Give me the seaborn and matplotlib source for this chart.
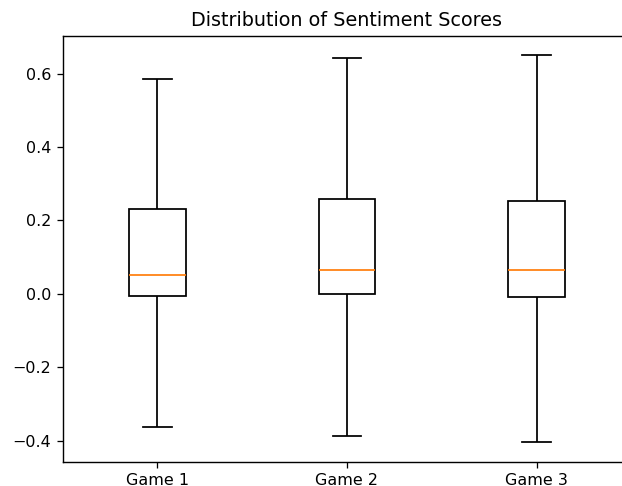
import matplotlib
matplotlib.use("Agg")
import matplotlib.pyplot as plt
import seaborn as sns
import pandas as pd

games = ["Game 1", "Game 2", "Game 3"]
# five summary values per game: min, Q1, median, Q3, max
game1_scores = [-0.364, -0.005, 0.050, 0.231, 0.586]
game2_scores = [-0.389, 0.000, 0.065, 0.258, 0.644]
game3_scores = [-0.405, -0.008, 0.065, 0.254, 0.650]

df = pd.DataFrame({
    "Game": [games[0]] * len(game1_scores) + [games[1]] * len(game2_scores) + [games[2]] * len(game3_scores),
    "Score": game1_scores + game2_scores + game3_scores,
})

s = 1.15
fig = plt.figure(figsize=(6.22, 4.86), dpi=100)
ax = fig.add_axes([62.5 / 622, (486 - 461.7) / 486, 569 / 622, (461.7 - 36) / 486])

sns.boxplot(
    data=df, x="Game", y="Score", order=games, ax=ax,
    whis=(0, 100), width=0.3, color="white", linecolor="black", linewidth=1.0 * s * 1.1,
    medianprops={"color": "#ff7f0e", "linewidth": 1.0 * s * 1.1},
    showfliers=False,
)
ax.set_xlabel("")
ax.set_ylabel("")
ax.set_xlim(-0.5, 2.5)
ax.set_yticks([-0.4, -0.2, 0.0, 0.2, 0.4, 0.6])
ax.tick_params(labelsize=10 * s, length=3.5 * s, width=0.8 * s, pad=3.5 * s)
for sp in ax.spines.values():
    sp.set_linewidth(0.8 * s * 1.1)
ax.spines["right"].set_visible(False)
ax.set_title("Distribution of Sentiment Scores", fontsize=12 * s, pad=6 * s)

fig.savefig("out.png", dpi=100)
